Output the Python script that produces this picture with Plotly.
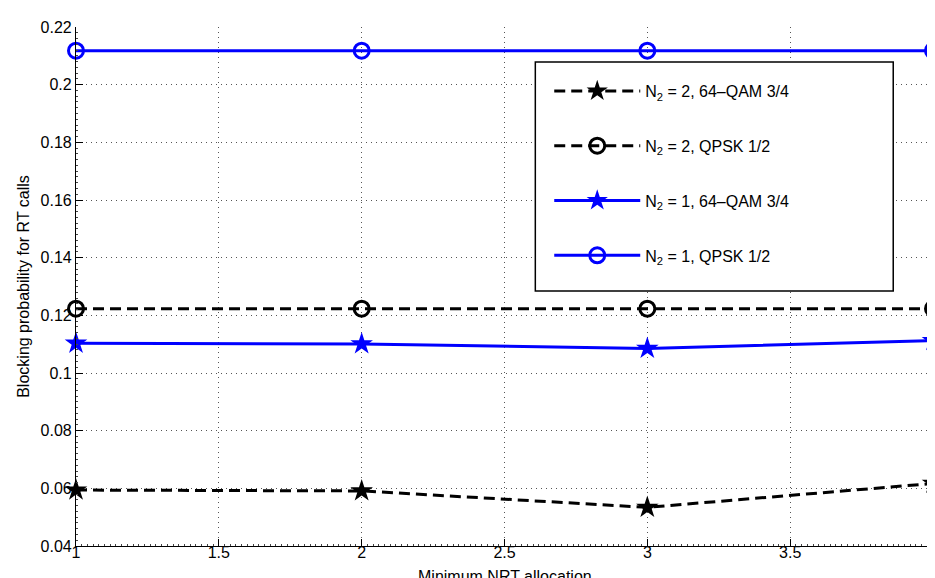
import plotly.graph_objects as go

x_vals = [1, 2, 3, 4]
n2_2_qam = [0.0594, 0.0591, 0.0534, 0.0617]
n2_2_qpsk = [0.1223, 0.1223, 0.1223, 0.1223]
n2_1_qam = [0.1103, 0.1101, 0.1085, 0.1112]
n2_1_qpsk = [0.2118, 0.2118, 0.2118, 0.2118]

names = ["N<sub>2</sub> = 2, 64\u2013QAM 3/4", "N<sub>2</sub> = 2, QPSK 1/2",
         "N<sub>2</sub> = 1, 64\u2013QAM 3/4", "N<sub>2</sub> = 1, QPSK 1/2"]

x_ticks = [1, 1.5, 2, 2.5, 3, 3.5, 4]
x_ticktext = ["1", "1.5", "2", "2.5", "3", "3.5", "4"]
y_ticks = [0.04, 0.06, 0.08, 0.1, 0.12, 0.14, 0.16, 0.18, 0.2, 0.22]
y_ticktext = ["0.04", "0.06", "0.08", "0.1", "0.12", "0.14", "0.16", "0.18", "0.2", "0.22"]
x_title = "Minimum NRT allocation"
y_title = "Blocking probability for RT calls"

FONT = "Liberation Sans, Arial, Helvetica, sans-serif"
DASH = "11px,6px"
GRID_DASH = "1px,4px"

fig = go.Figure()
fig.add_trace(go.Scatter(x=x_vals, y=n2_2_qam, name=names[0], legendgroup="a",
                         mode="lines+markers", line=dict(color="black", width=3, dash=DASH),
                         marker=dict(symbol="star", size=17, color="black")))
fig.add_trace(go.Scatter(x=x_vals, y=n2_2_qpsk, name=names[1], legendgroup="b",
                         mode="lines+markers", line=dict(color="black", width=3, dash=DASH),
                         marker=dict(symbol="circle-open", size=15, color="black",
                                     line=dict(width=3, color="black"))))
fig.add_trace(go.Scatter(x=x_vals, y=n2_1_qam, name=names[2], legendgroup="c",
                         mode="lines+markers", line=dict(color="#0000ff", width=3),
                         marker=dict(symbol="star", size=17, color="#0000ff")))
fig.add_trace(go.Scatter(x=x_vals, y=n2_1_qpsk, name=names[3], legendgroup="d",
                         mode="lines+markers", line=dict(color="#0000ff", width=3),
                         marker=dict(symbol="circle-open", size=15, color="#0000ff",
                                     line=dict(width=3, color="#0000ff"))))
fig.update_traces(cliponaxis=False)

W, H = 935, 578
L, R, T, B = 68, 5, 19, 40
pw, ph = W - L - R, H - T - B


def px_x(p):
    return (p - L) / pw


def px_y(p):
    return (H - B - p) / ph


fig.add_shape(type="rect", xref="paper", yref="paper",
              x0=px_x(530), x1=px_x(890), y0=px_y(283), y1=px_y(54),
              line=dict(color="black", width=1.5), fillcolor="white", layer="above")

fig.add_annotation(text=x_title, xref="paper", yref="paper", x=0.5, y=px_y(568),
                   xanchor="center", yanchor="middle", showarrow=False,
                   font=dict(size=16, family=FONT, color="black"))

fig.update_layout(
    width=W, height=H,
    margin=dict(l=L, r=R, t=T, b=B),
    plot_bgcolor="white", paper_bgcolor="white",
    font=dict(family=FONT, size=16, color="black"),
    legend=dict(x=px_x(544), y=px_y(66), xanchor="left", yanchor="top",
                bgcolor="rgba(0,0,0,0)", borderwidth=0, tracegroupgap=31,
                itemwidth=86, font=dict(size=16, family=FONT)),
    showlegend=True,
)
fig.update_xaxes(range=[1, 4], tickvals=x_ticks, ticktext=x_ticktext,
                 showgrid=True, gridcolor="#555555", griddash=GRID_DASH, gridwidth=1,
                 showline=True, linecolor="black", linewidth=1.2,
                 ticks="inside", ticklen=7, tickcolor="black", zeroline=False,
                 tickfont=dict(size=16), ticklabelstandoff=-8,
                 minor=dict(dtick=0.02, ticks="inside", ticklen=2, tickcolor="#444444", showgrid=False))
fig.update_yaxes(range=[0.04, 0.22], tickvals=y_ticks, ticktext=y_ticktext,
                 showgrid=True, gridcolor="#555555", griddash=GRID_DASH, gridwidth=1,
                 showline=True, linecolor="black", linewidth=1.2,
                 ticks="inside", ticklen=7, tickcolor="black", zeroline=False,
                 tickfont=dict(size=16),
                 minor=dict(dtick=0.002, ticks="inside", ticklen=2, tickcolor="#444444", showgrid=False),
                 title=dict(text=y_title, font=dict(size=16), standoff=6))

fig.write_html("out.html")
